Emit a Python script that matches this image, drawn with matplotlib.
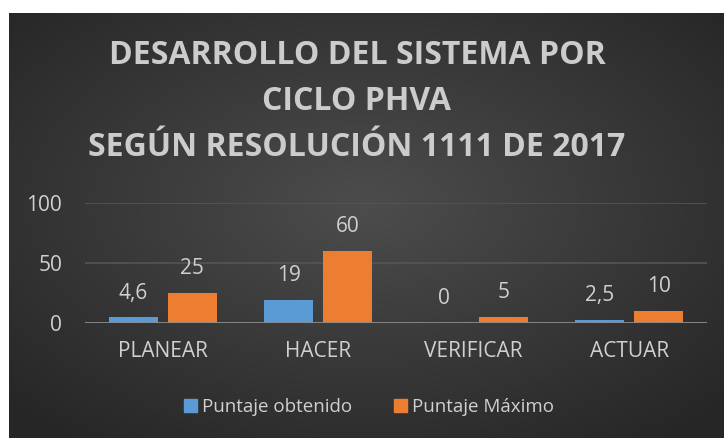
import numpy as np
import matplotlib
matplotlib.use("Agg")
import matplotlib.pyplot as plt
from matplotlib.patches import Patch

categories = ["PLANEAR", "HACER", "VERIFICAR", "ACTUAR"]
obtenido = [4.6, 19, 0, 2.5]
maximo = [25, 60, 5, 10]
obtenido_labels = ["4,6", "19", "0", "2,5"]
maximo_labels = ["25", "60", "5", "10"]
yticks = [0, 50, 100]

W, H = 724, 438
fig = plt.figure(figsize=(W/100, H/100), dpi=100)
fig.patch.set_facecolor("white")

# dark background panel with radial gradient
bx0, by0 = 9/W, 0
bw, bh = 1 - bx0, 1 - 13/H
bg = fig.add_axes([bx0, by0, bw, bh])
bg.set_axis_off()
yy, xx = np.mgrid[-1:1:300j, -1:1:500j]
r = np.sqrt((xx*0.9)**2 + ((yy+0.1)*0.9)**2)
r = np.clip(r, 0, 1.25)
c0, c1 = 0.30, 0.15
val = c0 - (c0 - c1) * (r / 1.25)
img = np.dstack([val, val, val])
bg.imshow(img, aspect="auto", extent=[0, 1, 0, 1], interpolation="bilinear")
bg.set_xlim(0, 1); bg.set_ylim(0, 1)

text_col = "#d0d0d0"
font = "Open Sans"

# plot area
px0, px1 = 85, 707
py_top, py_bot = 203, 323
ax = fig.add_axes([px0/W, 1 - py_bot/H, (px1-px0)/W, (py_bot-py_top)/H])
ax.set_facecolor("none")
x = np.arange(len(categories))
bw_ = 49/155.5
gap = 10/155.5
off = (bw_ + gap)/2
ax.bar(x - off, obtenido, width=bw_, color="#5b9bd5", zorder=3)
ax.bar(x + off, maximo, width=bw_, color="#ed7d31", zorder=3)
ax.set_xlim(-0.5, len(categories) - 0.5)
ax.set_ylim(0, 100)
ax.set_yticks(yticks)
ax.set_yticklabels([str(t) for t in yticks], fontsize=15, color=text_col, family=font)
ax.set_xticks(x)
ax.set_xticklabels(categories, fontsize=15, color=text_col, family=font)
ax.tick_params(axis="both", length=0)
ax.tick_params(axis="y", pad=16.5)
ax.tick_params(axis="x", pad=13)
for s in ax.spines.values():
    s.set_visible(False)
ax.grid(axis="y", color="#555555", linewidth=1.2, zorder=0)
ax.axhline(0, color="#8a8a8a", linewidth=2, zorder=4)

for xi, v, lab in zip(x - off, obtenido, obtenido_labels):
    ax.annotate(lab, (xi, v), xytext=(0, 10), textcoords="offset points", ha="center", va="bottom",
                fontsize=15, color=text_col, family=font)
for xi, v, lab in zip(x + off, maximo, maximo_labels):
    ax.annotate(lab, (xi, v), xytext=(0, 10), textcoords="offset points", ha="center", va="bottom",
                fontsize=15, color=text_col, family=font)

title_lines = ["DESARROLLO DEL SISTEMA POR", "CICLO PHVA", "SEGÚN RESOLUCIÓN 1111 DE 2017"]
for line, yc in zip(title_lines, [56, 101, 147]):
    fig.text(357/W, 1 - yc/H, line, ha="center", va="center", fontsize=23, fontweight="bold",
             color="#cccccc", family=font)

handles = [Patch(color="#5b9bd5"), Patch(color="#ed7d31")]
fig.legend(handles, ["Puntaje obtenido", "Puntaje Máximo"], loc="center",
           bbox_to_anchor=(369/W, 1 - 407/H), ncol=2, frameon=False,
           prop={"family": font, "size": 13.5}, handlelength=0.7, handleheight=0.7,
           handletextpad=0.3, columnspacing=2.2, labelcolor=text_col)

fig.savefig("out.png", dpi=100, facecolor="white")
